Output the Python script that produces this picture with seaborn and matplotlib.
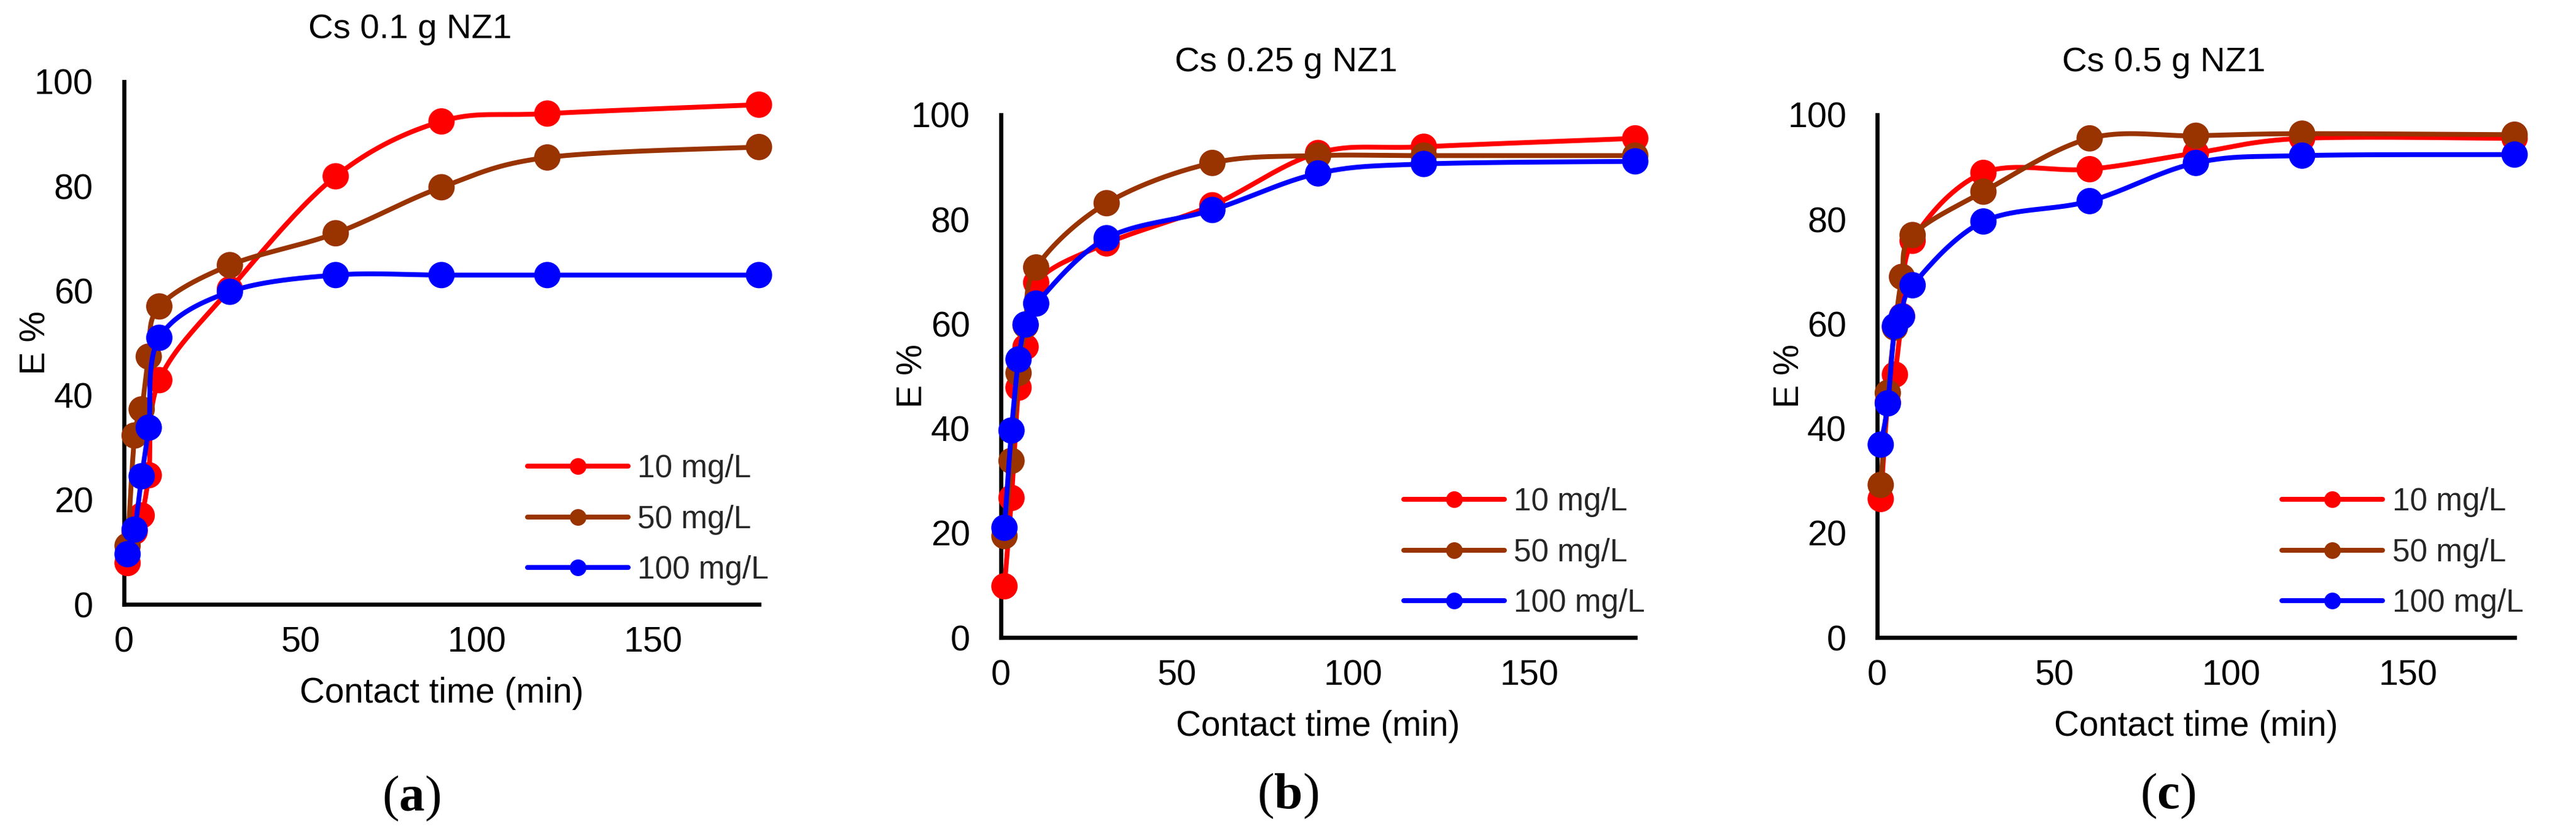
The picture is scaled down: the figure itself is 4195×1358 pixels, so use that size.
import numpy as np
import pandas as pd
import matplotlib
matplotlib.use("Agg")
import matplotlib.pyplot as plt
from matplotlib.lines import Line2D
import seaborn as sns

# ---------------- data ----------------
TIME = [1, 3, 5, 7, 10, 30, 60, 90, 120, 180]
SERIES = ["10 mg/L", "50 mg/L", "100 mg/L"]
COLORS = ["#FF0000", "#993300", "#0000FF"]
TITLES = ["Cs 0.1 g NZ1", "Cs 0.25 g NZ1", "Cs 0.5 g NZ1"]
CAPTIONS = ["a", "b", "c"]

A_10 = [7.9, 13.9, 17.0, 24.7, 42.9, 60.3, 81.9, 92.4, 93.9, 95.6]
A_50 = [11.2, 32.3, 37.3, 47.4, 57.0, 64.9, 71.0, 79.8, 85.5, 87.5]
A_100 = [9.6, 14.3, 24.5, 33.8, 51.0, 59.8, 63.0, 63.0, 63.0, 63.0]

B_10 = [9.8, 26.7, 47.8, 55.6, 67.9, 75.4, 82.7, 92.7, 93.9, 95.5]
B_50 = [19.4, 33.8, 50.6, 59.7, 70.8, 83.1, 90.8, 92.2, 92.2, 92.2]
B_100 = [21.0, 39.6, 53.2, 59.9, 63.9, 76.4, 81.8, 88.8, 90.6, 91.1]

C_10 = [26.5, 45.0, 50.3, 61.5, 75.9, 88.9, 89.6, 92.7, 95.5, 95.5]
C_50 = [29.2, 46.8, 59.3, 69.0, 77.0, 85.3, 95.5, 96.0, 96.4, 96.2]
C_100 = [36.9, 44.8, 59.6, 61.4, 67.4, 79.6, 83.5, 90.8, 92.2, 92.4]

PANELS = [[A_10, A_50, A_100], [B_10, B_50, B_100], [C_10, C_50, C_100]]

X_TICKS = [0, 50, 100, 150]
Y_TICKS = [0, 20, 40, 60, 80, 100]
X_LABEL = "Contact time (min)"
Y_LABEL = "E %"


def smooth(xs, ys, n=40):
    """Catmull-Rom style Bezier smoothing (like a spreadsheet smoothed line)."""
    P = np.column_stack([xs, ys]).astype(float)
    m = len(P)
    out = []
    for i in range(m - 1):
        p0 = P[i - 1] if i > 0 else P[i]
        p1 = P[i]
        p2 = P[i + 1]
        p3 = P[i + 2] if i + 2 < m else P[i + 1]
        c1 = p1 + (p2 - p0) / 6.0
        c2 = p2 - (p3 - p1) / 6.0
        t = np.linspace(0, 1, n)[:, None]
        seg = ((1 - t) ** 3) * p1 + 3 * ((1 - t) ** 2) * t * c1 + 3 * (1 - t) * t ** 2 * c2 + t ** 3 * p2
        if i > 0:
            seg = seg[1:]
        out.append(seg)
    out = np.vstack(out)
    return out[:, 0], out[:, 1]


sns.set_style("white")
plt.rcParams["font.family"] = ["Liberation Sans", "DejaVu Sans"]
plt.rcParams["mathtext.fontset"] = "custom"
plt.rcParams["mathtext.rm"] = "Liberation Serif"
plt.rcParams["mathtext.bf"] = "Liberation Serif:bold"

W, H = 4195, 1358
DPI = 300
fig = plt.figure(figsize=(W / DPI, H / DPI), dpi=DPI)
fig.patch.set_facecolor("white")

# axes boxes in pixels: left, right, bottom(y from top), top(y from top)
BOXES = [(202, 1236, 984, 133), (1630, 2663, 1038, 187), (3057, 4095, 1038, 187)]
CAP_POS = [(670, 1300), (2097, 1296), (3530, 1296)]

LW = 1.9
MS = 10.3

for k, (box, vals, title, cap) in enumerate(zip(BOXES, PANELS, TITLES, CAPTIONS)):
    l, r, b, t = box
    ax = fig.add_axes([l / W, (H - b) / H, (r - l) / W, (b - t) / H])
    ax.set_facecolor("white")
    for name, ys, col in zip(SERIES, vals, COLORS):
        sx, sy = smooth(TIME, ys)
        sns.lineplot(x=sx, y=sy, ax=ax, color=col, lw=LW, sort=False,
                     estimator=None, legend=False, clip_on=False, zorder=3)
        sns.scatterplot(x=TIME, y=ys, ax=ax, color=col, s=MS ** 2, linewidth=0,
                        edgecolor="none", legend=False, clip_on=False, zorder=3)
    ax.set_xlim(0, 180)
    ax.set_ylim(0, 100)
    ax.set_xticks(X_TICKS)
    ax.set_yticks(Y_TICKS)
    ax.tick_params(axis="both", length=0, labelsize=13.8, colors="black")
    ax.tick_params(axis="x", pad=8.5)
    ax.tick_params(axis="y", pad=12)
    for s in ["top", "right"]:
        ax.spines[s].set_visible(False)
    for s in ["left", "bottom"]:
        ax.spines[s].set_color("black")
        ax.spines[s].set_linewidth(1.6)
        ax.spines[s].set_zorder(2)
    ax.grid(False)
    ax.set_xlabel(X_LABEL, fontsize=13.6, color="black")
    ax.set_ylabel(Y_LABEL, fontsize=13.6, color="black")
    ax.xaxis.set_label_coords(0.5, -118 / 851)
    ax.yaxis.set_label_coords(-116 / (r - l), 0.5)
    ax.text(0.45, 1.10, title, transform=ax.transAxes, ha="center", va="center",
            fontsize=13.5, color="black")

    handles = [Line2D([0], [0], color=c, lw=LW, marker="o", markersize=6.5,
                      markeredgewidth=0) for c in COLORS]
    ax.legend(handles, SERIES, loc="center left", bbox_to_anchor=(0.635, 0.162),
              frameon=False, fontsize=12.3, handlelength=3.2, handletextpad=0.3,
              labelspacing=0.65, borderpad=0, borderaxespad=0)

    cx, cy = CAP_POS[k]
    fig.text(cx / W, 1 - cy / H, r"($\mathbf{" + cap + r"}$)", ha="center", va="center",
             fontsize=20, family="Liberation Serif", color="black")

fig.savefig("out.png", dpi=DPI, facecolor="white")
